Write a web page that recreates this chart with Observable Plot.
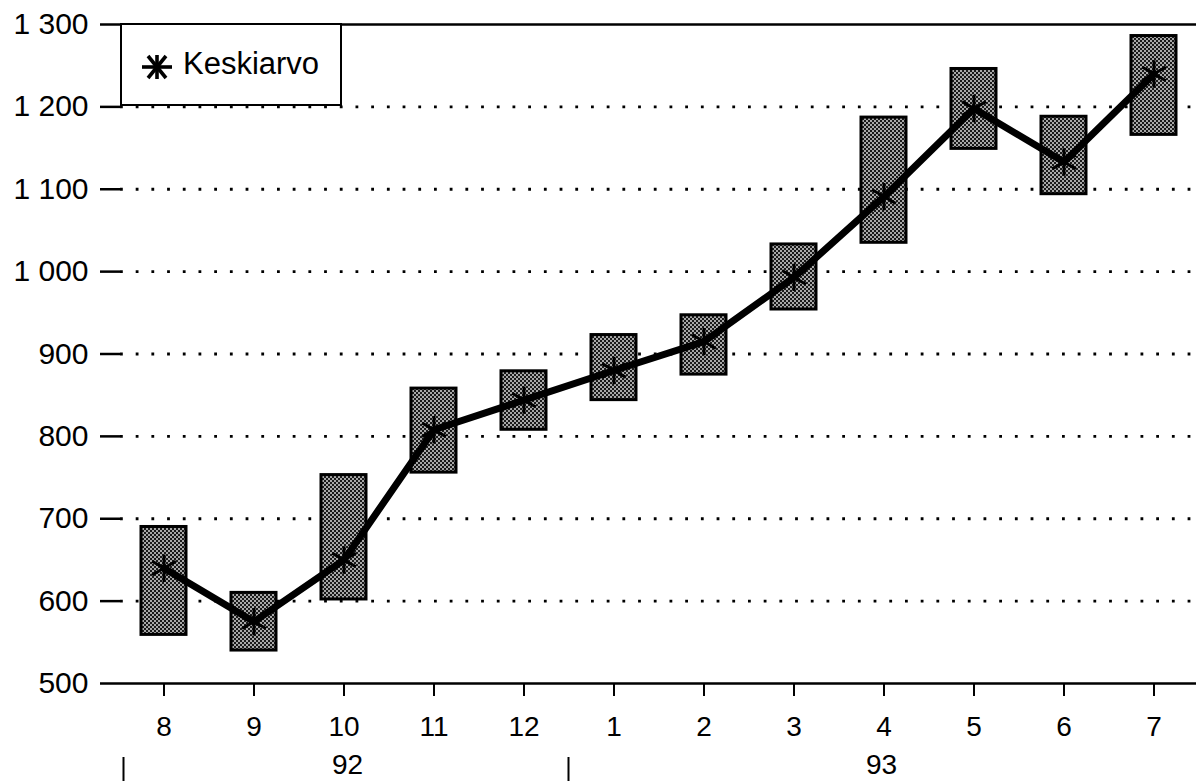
<!DOCTYPE html>
<html>
<head>
<meta charset="utf-8">
<script src="https://cdn.jsdelivr.net/npm/d3@7"></script>
<script src="https://cdn.jsdelivr.net/npm/@observablehq/plot@0.6"></script>
<style>
  html, body { margin: 0; padding: 0; background: white; overflow: hidden; }
  #wrap { position: relative; width: 1196px; font-family: "Liberation Sans", Arial, sans-serif; }
  #wrap svg { display: block; }
  #wrap g[aria-label="y-axis tick label"] text { font-size: 30px !important; }
  #wrap g[aria-label="x-axis tick label"] text { font-size: 28px !important; }
  #legend {
    position: absolute; left: 120px; top: 23px; width: 222px; height: 83px;
    border: 2.5px solid black; background: white; box-sizing: border-box;
  }
  #legend svg { position: absolute; left: 19px; top: 29px; }
  #legend span { position: absolute; left: 61px; top: 21px; font-size: 31px; line-height: 36px; color: black; }
</style>
</head>
<body>
<div id="wrap"></div>
<script>
// Months (x categories)
const months = ["8", "9", "10", "11", "12", "1", "2", "3", "4", "5", "6", "7"];
// Box lower and upper bounds
const low  = [559, 540, 602, 756, 808, 844, 875, 954, 1035, 1149, 1094, 1166];
const high = [690, 610, 753, 858, 879, 923, 947, 1033, 1187, 1246, 1188, 1286];
// Mean ("Keskiarvo")
const mean = [640, 575, 650, 808, 844, 880, 915, 993, 1091, 1198, 1133, 1240];
// Y ticks and gridlines
const yTicks = [500, 600, 700, 800, 900, 1000, 1100, 1200, 1300];
const gridValues = [600, 700, 800, 900, 1000, 1100, 1200];
// Year row
const yearLabels = ["92", "93"];
const yearCenters = ["10", "4"];
const yearStarts = ["8", "1"];

const rows = months.map((m, i) => ({month: m, low: low[i], high: high[i], mean: mean[i]}));
const years = yearLabels.map((y, i) => ({label: y, center: yearCenters[i]}));

const fmt = d3.formatLocale({thousands: " ", grouping: [3], decimal: ","}).format(",d");
const xOpts = {domain: months, paddingInner: 0.5, paddingOuter: 0.214, label: null};

const chart = Plot.plot({
  width: 1196, height: 743,
  marginLeft: 120, marginRight: 0, marginTop: 24, marginBottom: 60,
  style: {fontFamily: "Liberation Sans, Arial, sans-serif", background: "white", color: "black", overflow: "visible"},
  x: xOpts,
  y: {domain: [500, 1300], label: null},
  marks: [
    Plot.ruleY(gridValues, {stroke: "black", strokeWidth: 2.8, strokeDasharray: "2.8,12.9"}),
    Plot.barY(rows, {x: "month", y1: "low", y2: "high", fill: "url(#halftone)", stroke: "black", strokeWidth: 3}),
    Plot.line(rows, {x: "month", y: "mean", stroke: "black", strokeWidth: 7, strokeLinejoin: "round"}),
    Plot.dot(rows, {x: "month", y: "mean", symbol: "asterisk", r: 13, stroke: "black", strokeWidth: 3}),
    Plot.ruleY([500, 1300], {stroke: "black", strokeWidth: 2.5}),
    Plot.axisY({ticks: yTicks, tickFormat: fmt, tickSize: 20, tickPadding: 12, fontSize: 30, strokeWidth: 2.5, line: true, label: null}),
    Plot.axisX({tickSize: 13, tickPadding: 20, fontSize: 28, strokeWidth: 2, label: null})
  ]
});

const yearRow = Plot.plot({
  width: 1196, height: 38,
  marginLeft: 120, marginRight: 0, marginTop: 14, marginBottom: 0,
  style: {fontFamily: "Liberation Sans, Arial, sans-serif", background: "white", color: "black", overflow: "visible"},
  x: {...xOpts, axis: null},
  marks: [
    Plot.ruleX(yearStarts, {x: d => d, dx: -46, stroke: "black", strokeWidth: 2}),
    Plot.text(years, {x: "center", text: "label", frameAnchor: "middle", dy: -4, fontSize: 28, fill: "black"})
  ]
});

// halftone pattern for the boxes
d3.select(chart).insert("defs", ":first-child").html(
  '<pattern id="halftone" width="4" height="4" patternUnits="userSpaceOnUse">' +
  '<rect width="4" height="4" fill="#a8a8a8"/>' +
  '<rect width="2" height="2" fill="#1a1a1a"/>' +
  '<rect x="2" y="2" width="2" height="2" fill="#1a1a1a"/>' +
  '</pattern>'
);

const wrap = document.getElementById("wrap");
wrap.appendChild(chart);
wrap.appendChild(yearRow);

const legend = document.createElement("div");
legend.id = "legend";
legend.innerHTML =
  '<svg width="32" height="26" viewBox="-16 -13 32 26">' +
  '<g stroke="black" stroke-width="3.6" stroke-linecap="butt">' +
  '<line x1="-15" y1="0" x2="15" y2="0"/>' +
  '<line x1="-9" y1="-11" x2="9" y2="11"/>' +
  '<line x1="-9" y1="11" x2="9" y2="-11"/>' +
  '<line x1="0" y1="-12" x2="0" y2="12"/>' +
  '</g></svg><span>Keskiarvo</span>';
wrap.appendChild(legend);
</script>
</body>
</html>
